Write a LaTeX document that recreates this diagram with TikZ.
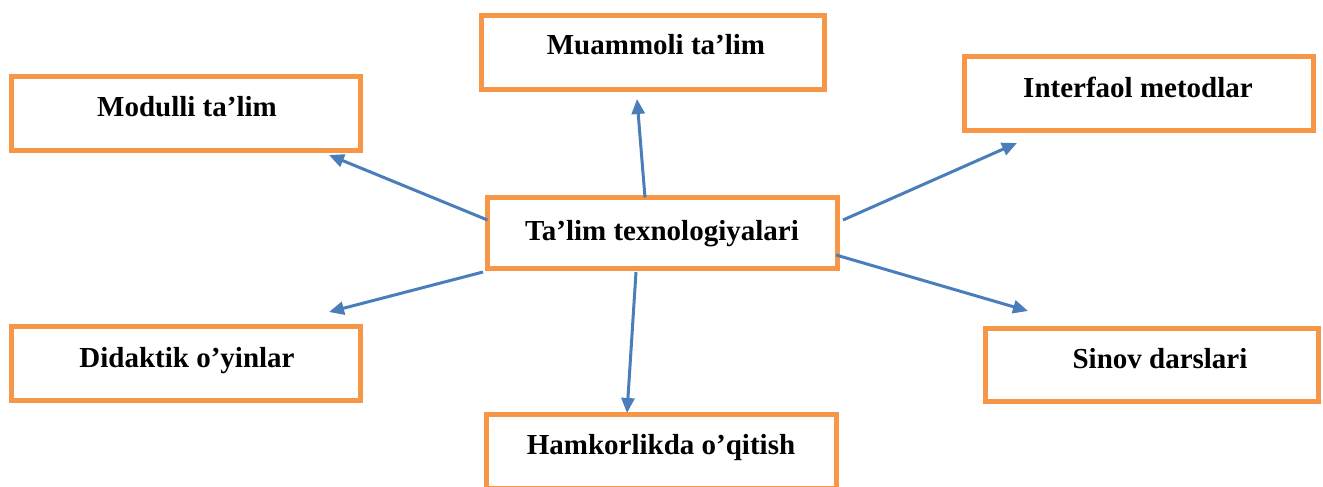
\documentclass[tikz,border=0pt]{standalone}
\usepackage{fontspec}
\setmainfont{Liberation Serif}
\usetikzlibrary{arrows.meta,calc}
\definecolor{boxorange}{HTML}{F79646}
\definecolor{arrowblue}{HTML}{4A7EBB}
\begin{document}
\begin{tikzpicture}[x=1pt,y=-1pt,
  box/.style={draw=boxorange,line width=5pt,fill=white,inner sep=0pt,outer sep=0pt},
  lbl/.style={anchor=base,inner sep=0pt,font=\fontsize{29}{34}\selectfont\bfseries},
  conn/.style={draw=arrowblue,line width=3pt,-{Triangle[length=15pt,width=13pt]}}]
\useasboundingbox (0,0) rectangle (1323,487);
\clip (0,0) rectangle (1323,487);
% boxes
\node[box,minimum width=349pt,minimum height=74pt] (mod) at (186,113.5) {};
\node[box,minimum width=343pt,minimum height=74pt] (mua) at (653,52.5) {};
\node[box,minimum width=349pt,minimum height=74pt] (int) at (1139,93.5) {};
\node[box,minimum width=350pt,minimum height=71pt] (tech) at (662.5,233) {};
\node[box,minimum width=333pt,minimum height=73pt] (sin) at (1152,365) {};
\node[box,minimum width=349pt,minimum height=74pt] (did) at (186,363.5) {};
\node[box,minimum width=350pt,minimum height=74pt] (ham) at (661.5,451.5) {};
% labels
\node[lbl] (tmod) at (187,117) {Modulli ta’lim};
\node[lbl] (tmua) at (656,55) {Muammoli ta’lim};
\node[lbl] (tint) at (1138,97) {Interfaol metodlar};
\node[lbl] (ttech) at (662,240) {Ta’lim texnologiyalari};
\node[lbl] (tsin) at (1160,368) {Sinov darslari};
\node[lbl] (tdid) at (187,367) {Didaktik o’yinlar};
\node[lbl] (tham) at (661,454) {Hamkorlikda o’qitish};
% connectors
\draw[conn] ($(tech.west)+(0,-13)$) -- ($(mod.south east)+(-31.5,4.5)$);
\draw[conn] ($(tech.north)+(-17.5,0)$) -- ($(mua.south)+(-16,9.5)$);
\draw[conn] ($(tech.east)+(5.5,-13)$) -- ($(int.south west)+(52.5,12.5)$);
\draw[conn] ($(tech.east)+(-1.5,22)$) -- ($(sin.north west)+(42.5,-17.5)$);
\draw[conn] ($(tech.south west)+(-4.5,3.5)$) -- ($(did.north east)+(-31.5,-14.5)$);
\draw[conn] ($(tech.south)+(-26.5,3.5)$) -- ($(ham.north)+(-34.5,-1.5)$);
\end{tikzpicture}
\end{document}
